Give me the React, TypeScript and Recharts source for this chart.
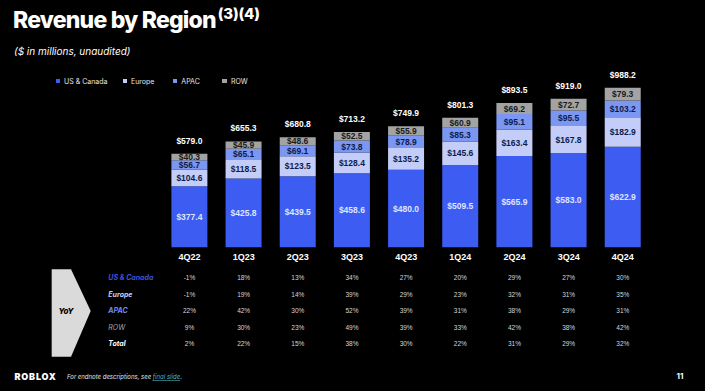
import React from 'react';
import { BarChart, Bar, XAxis, YAxis, LabelList, Legend } from 'recharts';

const quarters = ['4Q22', '1Q23', '2Q23', '3Q23', '4Q23', '1Q24', '2Q24', '3Q24', '4Q24'];
const usCanada = [377.4, 425.8, 439.5, 458.6, 480.0, 509.5, 565.9, 583.0, 622.9];
const europe = [104.6, 118.5, 123.5, 128.4, 135.2, 145.6, 163.4, 167.8, 182.9];
const apac = [56.7, 65.1, 69.1, 73.8, 78.9, 85.3, 95.1, 95.5, 103.2];
const rowRegion = [40.3, 45.9, 48.6, 52.5, 55.9, 60.9, 69.2, 72.7, 79.3];
const totals = [579.0, 655.3, 680.8, 713.2, 749.9, 801.3, 893.5, 919.0, 988.2];

const seriesNames = ['US & Canada', 'Europe', 'APAC', 'ROW'];
const yoyLabels = ['US & Canada', 'Europe', 'APAC', 'ROW', 'Total'];
const yoyUS = [-1, 18, 13, 34, 27, 20, 29, 27, 30];
const yoyEurope = [-1, 19, 14, 39, 29, 23, 32, 31, 35];
const yoyAPAC = [22, 42, 30, 52, 39, 31, 38, 29, 31];
const yoyROW = [9, 30, 23, 49, 39, 33, 42, 38, 42];
const yoyTotal = [2, 22, 15, 38, 30, 22, 31, 29, 32];
const yoyRows = [yoyUS, yoyEurope, yoyAPAC, yoyROW, yoyTotal];

const data = quarters.map((q, i) => ({
  q,
  us: usCanada[i],
  eu: europe[i],
  apac: apac[i],
  row: rowRegion[i],
  total: totals[i],
}));

const C_US = '#3d5cf2';
const C_EU = '#c3cdf7';
const C_APAC = '#7b97f1';
const C_ROW = '#a3a3a3';
const DARK = '#0c1b4d';

const ROW_OFFSETS = [30.4, 47, 63.4, 79.7, 96];
const ROW_LABEL_COLORS = ['#3f52dc', '#c8d0f5', '#6f8cf0', '#a8a8a8', '#ffffff'];

const fmt = (v: any) => `$${Number(v).toFixed(1)}`;

const Tick = (props: any) => {
  const { x, y, payload, index } = props;
  return (
    <g>
      <text x={x} y={y + 10} textAnchor="middle" dominantBaseline="central" fill="#ffffff"
        style={{ fontFamily: 'Liberation Sans, Arial, sans-serif', fontSize: 9, fontWeight: 700 }}>
        {payload.value}
      </text>
      {yoyRows.map((r, k) => (
        <text key={k} x={x} y={y + ROW_OFFSETS[k]} textAnchor="middle" dominantBaseline="central" fill="#d6d6d6"
          style={{ fontFamily: 'Liberation Sans, Arial, sans-serif', fontSize: 6.5 }}>
          {`${r[index]}%`}
        </text>
      ))}
    </g>
  );
};

const legendWidths = [67, 50.3, 49.7, 50];
const renderLegend = (props: any) => {
  const payload = [...(props.payload || [])].sort(
    (a: any, b: any) => seriesNames.indexOf(a.value) - seriesNames.indexOf(b.value)
  );
  return (
    <div style={{ display: 'flex', alignItems: 'center', height: 0, overflow: 'visible' }}>
      {payload.map((p: any, i: number) => (
        <div key={i} style={{ width: legendWidths[i], display: 'flex', alignItems: 'center', whiteSpace: 'nowrap', flexShrink: 0 }}>
          <span style={{ display: 'inline-block', width: 4.5, height: 4.5, background: p.color, marginRight: 4 }} />
          <span style={{ fontFamily: 'Inter, sans-serif', fontSize: 7, color: '#e6e6e6' }}>{p.value}</span>
        </div>
      ))}
    </div>
  );
};

const TotalLabel = (props: any) => {
  const { x, y, width, index } = props;
  return (
    <text x={x + width / 2} y={y - 13} textAnchor="middle" dominantBaseline="central" fill="#ffffff"
      style={{ fontFamily: 'Liberation Sans, Arial, sans-serif', fontSize: 8.5, fontWeight: 700 }}>
      {fmt(totals[index])}
    </text>
  );
};

const segLabelStyle = { fontFamily: 'Liberation Sans, Arial, sans-serif', fontSize: 8.5, fontWeight: 700 };

export default function App() {
  return (
    <div style={{ position: 'absolute', left: 0, top: 0, width: 705, height: 391, background: '#000000', overflow: 'hidden' }}>
      <div style={{ position: 'absolute', left: 13, top: 6, color: '#ffffff', fontFamily: 'Inter, sans-serif', fontWeight: 800, fontSize: 23, letterSpacing: -0.8, whiteSpace: 'nowrap' }}>
        Revenue by Region<span style={{ fontSize: 15, position: 'relative', top: -9, marginLeft: 2, letterSpacing: -0.2 }}>(3)(4)</span>
      </div>
      <div style={{ position: 'absolute', left: 14, top: 45, color: '#ffffff', fontFamily: 'Inter, sans-serif', fontStyle: 'italic', fontSize: 10, whiteSpace: 'nowrap' }}>
        ($ in millions, unaudited)
      </div>

      <div style={{ position: 'absolute', left: 0, top: 0 }}>
        <BarChart width={705} height={391} data={data}
          margin={{ top: 69.6, right: 55.1, left: 162.4, bottom: 13.7 }}>
          <XAxis dataKey="q" axisLine={false} tickLine={false} tickSize={0} tickMargin={0} height={130}
            interval={0} tick={<Tick />} />
          <YAxis hide domain={[0, 1100]} />
          <Legend verticalAlign="top" align="left" content={renderLegend}
            wrapperStyle={{ position: 'absolute', left: 55.5, top: 81, width: 300, height: 0 }} />
          <Bar dataKey="us" name="US & Canada" stackId="a" fill={C_US} barSize={36} isAnimationActive={false}>
            <LabelList dataKey="us" position="center" formatter={fmt} fill="#dfe5ff" style={segLabelStyle} />
          </Bar>
          <Bar dataKey="eu" name="Europe" stackId="a" fill={C_EU} barSize={36} isAnimationActive={false}>
            <LabelList dataKey="eu" position="center" formatter={fmt} fill={DARK} style={segLabelStyle} />
          </Bar>
          <Bar dataKey="apac" name="APAC" stackId="a" fill={C_APAC} barSize={36} isAnimationActive={false}>
            <LabelList dataKey="apac" position="center" formatter={fmt} fill={DARK} style={segLabelStyle} />
          </Bar>
          <Bar dataKey="row" name="ROW" stackId="a" fill={C_ROW} barSize={36} isAnimationActive={false}>
            <LabelList dataKey="row" position="center" formatter={fmt} fill="#1a1a1a" style={segLabelStyle} />
            <LabelList dataKey="total" content={<TotalLabel />} />
          </Bar>
        </BarChart>
      </div>

      <svg style={{ position: 'absolute', left: 0, top: 0 }} width={705} height={391}>
        <polygon points="51.7,269.3 71,269.3 90.7,311 71,356.7 51.7,356.7" fill="#dadada" />
        <text x={66} y={311} textAnchor="middle" dominantBaseline="central" fill="#000000"
          style={{ fontFamily: 'Inter, sans-serif', fontSize: 8, fontWeight: 800, fontStyle: 'italic' }}>YoY</text>
        {yoyLabels.map((l, k) => (
          <text key={l} x={108.3} y={247.3 + ROW_OFFSETS[k]} dominantBaseline="central" fill={ROW_LABEL_COLORS[k]}
            style={{ fontFamily: 'Inter, sans-serif', fontSize: 7, fontWeight: k === 3 ? 400 : 700, fontStyle: 'italic' }}>{l}</text>
        ))}
        <text x={14.5} y={376} dominantBaseline="central" fill="#ffffff"
          style={{ fontFamily: 'Inter, sans-serif', fontSize: 9, fontWeight: 900, letterSpacing: 0.8 }}>ROBLOX</text>
        <text x={67} y={376} dominantBaseline="central" fill="#e0e0e0"
          style={{ fontFamily: 'Inter, sans-serif', fontSize: 6, fontStyle: 'italic' }}>
          For endnote descriptions, see <tspan fill="#4db6c6" textDecoration="underline">final slide</tspan>.
        </text>
        <text x={680} y={376} textAnchor="middle" dominantBaseline="central" fill="#ffffff"
          style={{ fontFamily: 'Inter, sans-serif', fontSize: 8, fontWeight: 700 }}>11</text>
      </svg>
    </div>
  );
}
